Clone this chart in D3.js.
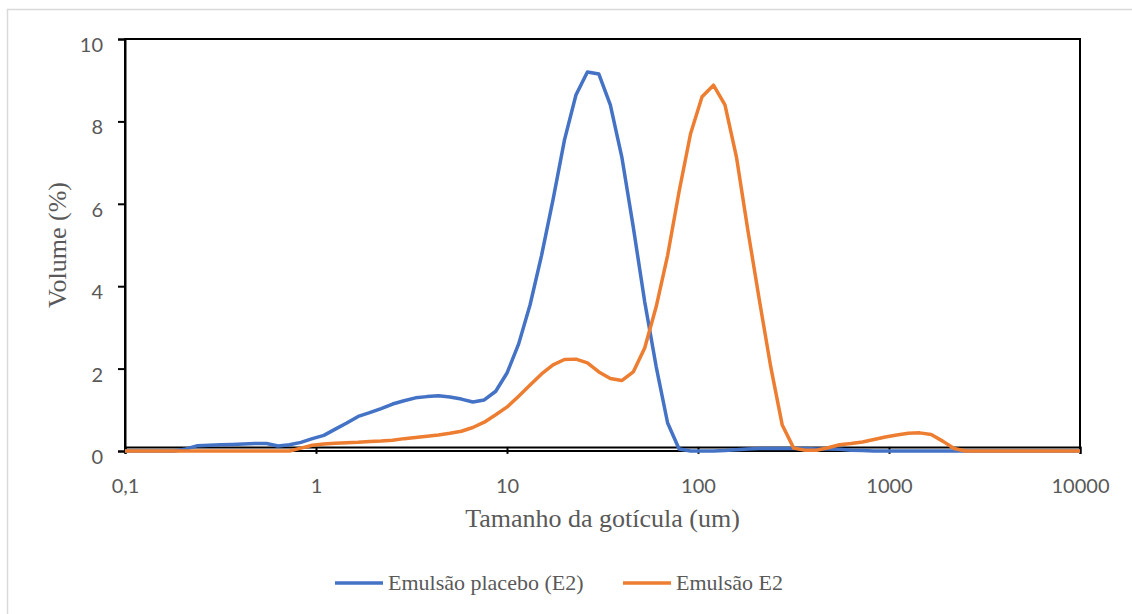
<!DOCTYPE html>
<html>
<head>
<meta charset="utf-8">
<script src="https://cdn.jsdelivr.net/npm/d3@7.9.0/dist/d3.min.js"></script>
<style>
  html, body { margin: 0; padding: 0; background: #fff; }
  svg { display: block; }
</style>
</head>
<body>
<svg id="chart" width="1132" height="614"></svg>
<script>
// droplet size classes (um), log spaced
const sizes = [
  0.0914, 0.105, 0.120, 0.138, 0.159, 0.182, 0.209, 0.240, 0.276, 0.317,
  0.364, 0.418, 0.480, 0.551, 0.632, 0.726, 0.834, 0.957, 1.099, 1.262,
  1.449, 1.663, 1.910, 2.193, 2.518, 2.891, 3.319, 3.811, 4.375, 5.023,
  5.768, 6.622, 7.603, 8.730, 10.02, 11.51, 13.21, 15.17, 17.42, 20.00,
  22.96, 26.36, 30.27, 34.75, 39.90, 45.81, 52.60, 60.39, 69.34, 79.62,
  91.41, 105.0, 120.5, 138.4, 158.9, 182.4, 209.4, 240.4, 276.1, 317.0,
  363.9, 417.8, 479.7, 550.8, 632.4, 726.1, 833.7, 957.2, 1099, 1262,
  1449, 1663, 1910, 2193, 2518, 2891, 3319, 3811, 4375, 5023,
  5768, 6622, 7603, 8730, 10023
];

const placebo = [
  0, 0, 0, 0, 0, 0, 0.05, 0.13, 0.14, 0.15,
  0.16, 0.17, 0.18, 0.18, 0.12, 0.15, 0.21, 0.30, 0.38, 0.53,
  0.68, 0.84, 0.93, 1.03, 1.14, 1.22, 1.29, 1.32, 1.34, 1.31,
  1.26, 1.19, 1.24, 1.45, 1.90, 2.60, 3.55, 4.75, 6.10, 7.55,
  8.64, 9.20, 9.15, 8.40, 7.14, 5.44, 3.62, 2.05, 0.68, 0.05,
  0, 0, 0, 0.01, 0.03, 0.05, 0.06, 0.06, 0.06, 0.06,
  0.06, 0.05, 0.05, 0.04, 0.02, 0.01, 0, 0, 0, 0,
  0, 0, 0, 0, 0, 0, 0, 0, 0, 0,
  0, 0, 0, 0, 0
];

const emulsao = [
  0, 0, 0, 0, 0, 0, 0, 0, 0, 0,
  0, 0, 0, 0, 0, 0, 0.07, 0.14, 0.17, 0.19,
  0.20, 0.21, 0.23, 0.24, 0.26, 0.30, 0.33, 0.36, 0.39, 0.43,
  0.48, 0.57, 0.70, 0.88, 1.07, 1.33, 1.60, 1.87, 2.09, 2.22,
  2.23, 2.14, 1.92, 1.76, 1.71, 1.92, 2.50, 3.50, 4.75, 6.30,
  7.70, 8.60, 8.88, 8.40, 7.14, 5.36, 3.67, 2.04, 0.63, 0.07,
  0.02, 0.02, 0.08, 0.15, 0.18, 0.22, 0.28, 0.34, 0.39, 0.43,
  0.44, 0.40, 0.24, 0.06, 0, 0, 0, 0, 0, 0,
  0, 0, 0, 0, 0
];

const xTicks = [0.1, 1, 10, 100, 1000, 10000];
const yTicks = [0, 2, 4, 6, 8, 10];
const seriesNames = ['Emulsão placebo (E2)', 'Emulsão E2'];
const seriesColors = ['#4472C4', '#ED7D31'];

const svg = d3.select('#chart');
const plot = { left: 125, right: 1080, top: 39, bottom: 451 };

// outer chart frame
svg.append('rect')
  .attr('x', 7.5).attr('y', 9.5)
  .attr('width', 1140).attr('height', 620)
  .attr('fill', '#fff')
  .attr('stroke', '#d9d9d9')
  .attr('stroke-width', 1.5);

const x = d3.scaleLog()
  .domain([0.1, 10000])
  .range([plot.left, plot.right]);

const y = d3.scaleLinear()
  .domain([0, 10])
  .range([plot.bottom, plot.top]);

// plot area border
svg.append('rect')
  .attr('x', plot.left).attr('y', plot.top)
  .attr('width', plot.right - plot.left)
  .attr('height', plot.bottom - plot.top)
  .attr('fill', 'none')
  .attr('stroke', '#000')
  .attr('stroke-width', 2);

// y axis
const yAxis = svg.append('g')
  .attr('transform', `translate(${plot.left},0)`)
  .call(d3.axisLeft(y).tickValues(yTicks).tickSize(7).tickPadding(15).tickFormat(d3.format('d')));
yAxis.select('.domain').attr('stroke', '#000').attr('stroke-width', 2);
yAxis.selectAll('.tick line').attr('stroke', '#000').attr('stroke-width', 2);
yAxis.selectAll('.tick text')
  .attr('dy', '0.62em')
  .attr('fill', '#595959')
  .style('font-family', 'Lato, "Open Sans", sans-serif')
  .style('font-size', '20px');

// x axis, crossing at y = 0.1
const xAxis = svg.append('g')
  .attr('transform', `translate(0,${y(0.1)})`)
  .call(d3.axisBottom(x).tickValues(xTicks).tickSize(7).tickPadding(25)
    .tickFormat(d => String(d).replace('.', ',')));
xAxis.select('.domain').attr('stroke', '#000').attr('stroke-width', 2);
xAxis.selectAll('.tick line').attr('stroke', '#000').attr('stroke-width', 2);
xAxis.selectAll('.tick text')
  .attr('fill', '#595959')
  .style('font-family', 'Lato, "Open Sans", sans-serif')
  .style('font-size', '20px');

// clip lines horizontally to the plot area
svg.append('clipPath').attr('id', 'clip')
  .append('rect')
  .attr('x', plot.left).attr('y', 0)
  .attr('width', plot.right - plot.left).attr('height', 614);

const line = d3.line()
  .x((d, i) => x(sizes[i]))
  .y(d => y(d));

[placebo, emulsao].forEach((vals, k) => {
  svg.append('path')
    .datum(vals)
    .attr('clip-path', 'url(#clip)')
    .attr('fill', 'none')
    .attr('stroke', seriesColors[k])
    .attr('stroke-width', 3.5)
    .attr('stroke-linejoin', 'round')
    .attr('d', line);
});

// axis titles
svg.append('text')
  .attr('transform', `translate(66,${(plot.top + plot.bottom) / 2}) rotate(-90)`)
  .attr('text-anchor', 'middle')
  .attr('fill', '#595959')
  .style('font-family', '"Liberation Serif", "Times New Roman", serif')
  .style('font-size', '26px')
  .text('Volume (%)');

svg.append('text')
  .attr('x', (plot.left + plot.right) / 2)
  .attr('y', 527)
  .attr('text-anchor', 'middle')
  .attr('fill', '#595959')
  .style('font-family', '"Liberation Serif", "Times New Roman", serif')
  .style('font-size', '26px')
  .text('Tamanho da gotícula (um)');

// legend
const legendX = [335, 623];
const legend = svg.append('g');
seriesNames.forEach((name, k) => {
  legend.append('line')
    .attr('x1', legendX[k]).attr('x2', legendX[k] + 48)
    .attr('y1', 583).attr('y2', 583)
    .attr('stroke', seriesColors[k])
    .attr('stroke-width', 3.5);
  legend.append('text')
    .attr('x', legendX[k] + 53)
    .attr('y', 590)
    .attr('fill', '#595959')
    .style('font-family', '"Liberation Serif", "Times New Roman", serif')
    .style('font-size', '22px')
    .text(name);
});
</script>
</body>
</html>
